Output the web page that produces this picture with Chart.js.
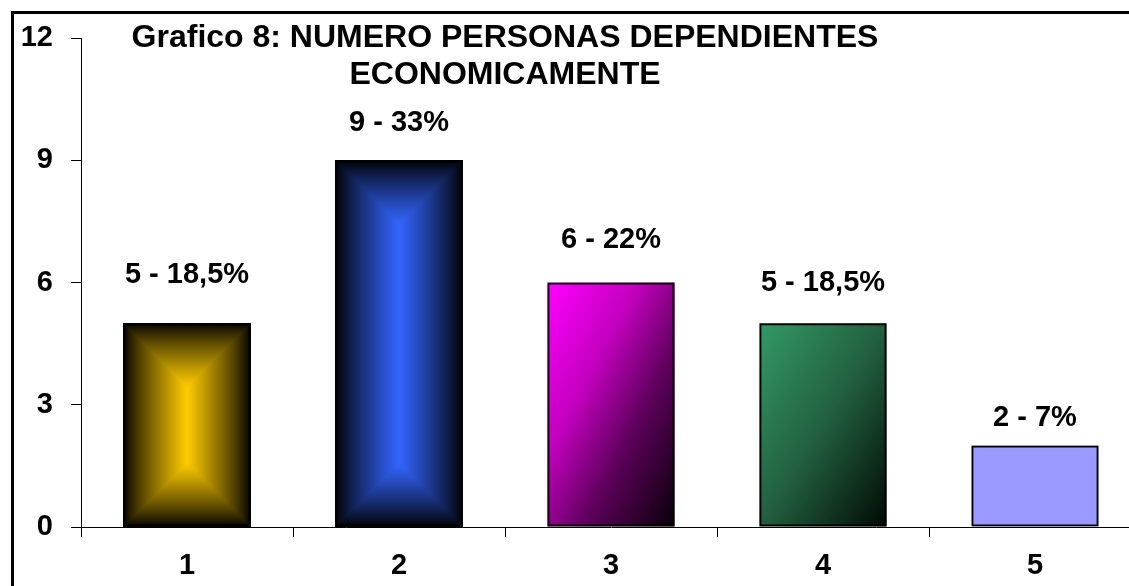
<!DOCTYPE html>
<html>
<head>
<meta charset="utf-8">
<script src="https://cdn.jsdelivr.net/npm/chart.js@4/dist/chart.umd.min.js"></script>
<style>
  html, body { margin: 0; padding: 0; background: #fff; overflow: hidden; }
  #wrap { width: 1170px; height: 600px; }
</style>
</head>
<body>
<div id="wrap"><canvas id="chart" width="1170" height="600"></canvas></div>
<script>
// datos del grafico
const categorias = ['1', '2', '3', '4', '5'];
const personas = [5, 9, 6, 5, 2];
const porcentajes = ['18,5', '33', '22', '18,5', '7'];
const ticksY = [0, 3, 6, 9, 12];
const tituloLineas = ['Grafico 8: NUMERO PERSONAS DEPENDIENTES', 'ECONOMICAMENTE'];

// estilos
const FONT = 'Arial, "Liberation Sans", sans-serif';
const etiquetaOffset = [48, 37, 43, 40, 28];

// relleno "desde el centro" (como Excel): oscuro en los bordes, claro al centro
// se pinta pixel a pixel en un canvas auxiliar para que no queden costuras
function rellenoCentro(ctx, x, y, w, h, rgb) {
  const W = Math.max(1, Math.round(w));
  const H = Math.max(1, Math.round(h));
  const off = document.createElement('canvas');
  off.width = W; off.height = H;
  const octx = off.getContext('2d');
  const img = octx.createImageData(W, H);
  const d = Math.min(W, H) / 2;
  for (let j = 0; j < H; j++) {
    for (let i = 0; i < W; i++) {
      const dist = Math.min(i + 0.5, W - i - 0.5, j + 0.5, H - j - 0.5);
      const t = Math.pow(Math.min(1, dist / d), 0.85);
      const k = (j * W + i) * 4;
      img.data[k] = rgb[0] * t;
      img.data[k + 1] = rgb[1] * t;
      img.data[k + 2] = rgb[2] * t;
      img.data[k + 3] = 255;
    }
  }
  octx.putImageData(img, 0, 0);
  ctx.drawImage(off, x, y, w, h);
}

// relleno diagonal (esquina sup-izq -> inf-der), en espacio normalizado
function rellenoDiagonal(ctx, x, y, w, h, stops) {
  ctx.save();
  ctx.translate(x, y);
  ctx.scale(w, h);
  const g = ctx.createLinearGradient(0, 0, 1, 1);
  stops.forEach(s => g.addColorStop(s[0], s[1]));
  ctx.fillStyle = g;
  ctx.fillRect(0, 0, 1, 1);
  ctx.restore();
}

const rellenos = [
  (ctx, x, y, w, h) => rellenoCentro(ctx, x, y, w, h, [255, 204, 0]),
  (ctx, x, y, w, h) => rellenoCentro(ctx, x, y, w, h, [51, 102, 255]),
  (ctx, x, y, w, h) => rellenoDiagonal(ctx, x, y, w, h, [[0, '#ff00ff'], [0.35, '#c400c0'], [0.65, '#5c005a'], [1, '#080008']]),
  (ctx, x, y, w, h) => rellenoDiagonal(ctx, x, y, w, h, [[0, '#339966'], [0.5, '#22603f'], [1, '#000a04']]),
  (ctx, x, y, w, h) => { ctx.fillStyle = '#9999ff'; ctx.fillRect(x, y, w, h); }
];

// marco y fondo
const marcoPlugin = {
  id: 'marco',
  beforeDraw(chart) {
    const ctx = chart.ctx;
    ctx.save();
    ctx.fillStyle = '#fff';
    ctx.fillRect(0, 0, chart.width, chart.height);
    ctx.strokeStyle = '#000';
    ctx.lineWidth = 3;
    ctx.strokeRect(12.5, 12.5, 1150, 580);
    ctx.restore();
  }
};

// relleno de las barras con degradados
const degradadoPlugin = {
  id: 'degradado',
  beforeDatasetsDraw(chart) {
    const ctx = chart.ctx;
    const meta = chart.getDatasetMeta(0);
    ctx.save();
    meta.data.forEach((bar, i) => {
      const x = bar.x - bar.width / 2;
      const y = Math.min(bar.y, bar.base);
      const h = Math.abs(bar.base - bar.y);
      rellenos[i](ctx, x, y, bar.width, h);
    });
    ctx.restore();
  }
};

// etiquetas "n - %" sobre cada barra + titulo
const etiquetasPlugin = {
  id: 'etiquetas',
  afterDatasetsDraw(chart) {
    const ctx = chart.ctx;
    const meta = chart.getDatasetMeta(0);
    ctx.save();
    ctx.fillStyle = '#000';
    ctx.font = 'bold 29px ' + FONT;
    ctx.textAlign = 'center';
    ctx.textBaseline = 'middle';
    meta.data.forEach((bar, i) => {
      ctx.fillText(personas[i] + ' - ' + porcentajes[i] + '%', bar.x, bar.y - etiquetaOffset[i]);
    });
    ctx.font = 'bold 32px ' + FONT;
    tituloLineas.forEach((t, i) => ctx.fillText(t, 505, 38 + i * 37));
    ctx.restore();
  }
};

const ctx = document.getElementById('chart').getContext('2d');
new Chart(ctx, {
  type: 'bar',
  data: {
    labels: categorias,
    datasets: [{
      data: personas,
      backgroundColor: 'rgba(0,0,0,0)',
      borderColor: '#000',
      borderWidth: 2,
      borderSkipped: false,
      categoryPercentage: 1,
      barPercentage: 0.6
    }]
  },
  options: {
    responsive: false,
    animation: false,
    devicePixelRatio: 1,
    layout: { padding: { left: 0, top: 38, right: 29, bottom: 0 } },
    plugins: {
      legend: { display: false },
      tooltip: { enabled: false },
      title: { display: false }
    },
    scales: {
      x: {
        grid: { drawOnChartArea: false, drawTicks: true, tickLength: 10, color: '#000', offset: true },
        border: { display: true, color: '#000', width: 1 },
        ticks: { color: '#000', font: { family: FONT, size: 29, weight: 'bold' }, padding: 12 },
        afterFit(scale) { scale.height = 73; }
      },
      y: {
        min: 0,
        max: 12,
        afterBuildTicks(scale) { scale.ticks = ticksY.map(v => ({ value: v })); },
        grid: { drawOnChartArea: false, drawTicks: true, tickLength: 10, color: '#000' },
        border: { display: true, color: '#000', width: 1 },
        ticks: { color: '#000', font: { family: FONT, size: 29, weight: 'bold' }, padding: 18 },
        afterFit(scale) { scale.width = 81; }
      }
    }
  },
  plugins: [marcoPlugin, degradadoPlugin, etiquetasPlugin]
});
</script>
</body>
</html>
